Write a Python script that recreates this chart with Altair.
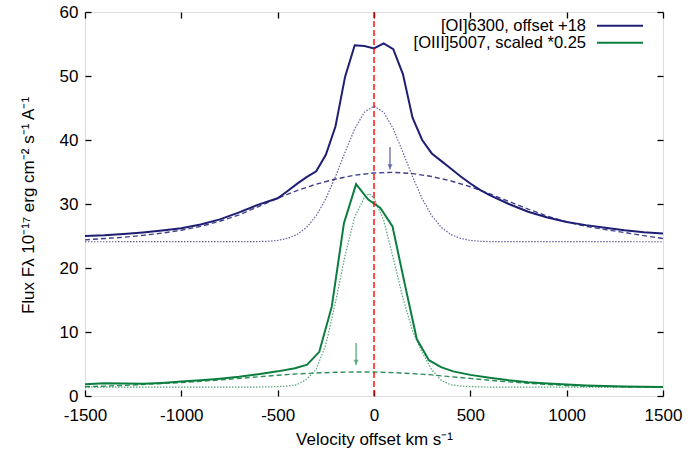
import altair as alt
import pandas as pd

# ---- [OI]6300 profile (offset +18), 1e-17 erg cm^-2 s^-1 A^-1 ----
v_oi = [-1500, -1400, -1300, -1200, -1100, -1000, -900, -800, -700, -600,
        -500, -450, -400, -350, -300, -250, -200, -150, -100, -50,
        0, 50, 100, 150, 200, 250, 300, 350, 400, 450,
        500, 550, 600, 700, 800, 900, 1000, 1100, 1200, 1300, 1400, 1500]
f_oi = [25.0, 25.1, 25.3, 25.55, 25.85, 26.2, 26.8, 27.6, 28.7, 29.9,
        30.9, 32.0, 33.15, 34.2, 35.1, 37.7, 42.1, 49.9, 54.8, 54.7,
        54.3, 55.1, 54.2, 50.3, 43.5, 40.0, 37.9, 36.7, 35.5, 34.3,
        33.2, 32.2, 31.4, 30.0, 28.8, 27.9, 27.2, 26.7, 26.3, 25.9, 25.6, 25.4]

# broad component fits (dashed)
v_broad = [-1500, -1400, -1300, -1200, -1100, -1000, -900, -800, -700, -600,
           -500, -400, -300, -200, -100, 0, 100, 200, 300, 400,
           500, 600, 700, 800, 900, 1000, 1100, 1200, 1300, 1400, 1500]
oi_broad = [24.4, 24.6, 24.8, 25.1, 25.45, 25.9, 26.5, 27.3, 28.3, 29.6,
            30.9, 32.1, 33.1, 33.9, 34.5, 34.85, 34.95, 34.75, 34.3, 33.6,
            32.7, 31.6, 30.4, 29.2, 28.1, 27.2, 26.5, 26.0, 25.55, 25.05, 24.6]
o3_broad = [1.45, 1.55, 1.65, 1.8, 1.95, 2.1, 2.3, 2.5, 2.75, 3.0,
            3.25, 3.45, 3.6, 3.7, 3.75, 3.75, 3.65, 3.5, 3.3, 3.0,
            2.75, 2.45, 2.2, 2.0, 1.8, 1.65, 1.55, 1.48, 1.42, 1.38, 1.35]

# narrow component fits (dotted)
v_narrow_oi = [-1500, -600, -550, -500, -450, -400, -350, -300, -250, -200,
               -150, -100, -50, 0, 50, 100, 150, 200, 250, 300,
               350, 400, 450, 500, 550, 600, 1500]
oi_narrow = [24.1, 24.13, 24.18, 24.31, 24.62, 25.22, 26.33, 28.16, 30.83, 34.27,
             38.1, 41.74, 44.35, 45.3, 44.35, 41.74, 38.1, 34.27, 30.83, 28.16,
             26.33, 25.22, 24.62, 24.31, 24.18, 24.13, 24.1]

# ---- [OIII]5007 profile (scaled *0.25) ----
v_o3 = [-1500, -1400, -1300, -1200, -1100, -1000, -900, -800, -700, -600,
        -500, -410, -347, -284, -219, -156, -93, -30, 33, 96,
        159, 222, 285, 348, 411, 500, 600, 700, 800, 900,
        1000, 1100, 1200, 1300, 1400, 1500]
f_o3 = [1.85, 2.0, 1.95, 1.9, 2.05, 2.25, 2.45, 2.7, 3.0, 3.4,
        3.85, 4.35, 4.9, 6.9, 14.0, 27.0, 33.1, 30.7, 29.4, 26.5,
        17.6, 8.9, 5.6, 4.5, 3.85, 3.3, 2.85, 2.45, 2.15, 1.95,
        1.8, 1.65, 1.55, 1.5, 1.45, 1.42]

v_narrow_o3 = [-1500, -600, -550, -500, -450, -400, -350, -300, -250, -200,
               -150, -100, -50, -25, 0, 50, 100, 150, 200, 250,
               300, 350, 400, 450, 500, 550, 600, 1500]
o3_narrow = [1.4, 1.4, 1.42, 1.47, 1.55, 1.75, 2.6, 4.2, 8.0, 14.6,
             22.0, 28.0, 31.0, 31.65, 30.9, 27.5, 21.5, 15.3, 10.2, 6.8,
             4.1, 2.4, 1.75, 1.55, 1.47, 1.42, 1.4, 1.4]

# broad-component centroid markers: velocity, arrow tail, arrow tip
arrow_oi = {"v": [83], "top": [38.9], "tip": [35.4]}
arrow_o3 = {"v": [-93], "top": [8.3], "tip": [4.85]}

x_ticks = [-1500, -1000, -500, 0, 500, 1000, 1500]
y_ticks = [0, 10, 20, 30, 40, 50, 60]

legend_labels = ["[OI]6300, offset +18", "[OIII]5007, scaled *0.25"]

# ---- styling ----
FONT = "Liberation Sans"
BLUE = "#1e1e74"
GREEN = "#0b7d3e"
RED = "#ff0000"
INWARD = {"expr": "-6"}

xs = alt.Scale(domain=[-1500, 1500], nice=False, zero=False)
ys = alt.Scale(domain=[0, 60], nice=False, zero=False)


def profile(v, f, color, width, dash=None, opacity=1.0):
    kw = dict(color=color, strokeWidth=width, opacity=opacity, clip=True)
    if dash:
        kw["strokeDash"] = dash
    return alt.Chart(pd.DataFrame({"v": v, "f": f})).mark_line(**kw).encode(
        x=alt.X("v:Q", scale=xs, axis=None),
        y=alt.Y("f:Q", scale=ys, axis=None),
    )


def arrow(a, color):
    df = pd.DataFrame(a)
    shaft = alt.Chart(df).mark_rule(color=color, strokeWidth=1.5, opacity=0.8).encode(
        x=alt.X("v:Q", scale=xs, axis=None),
        y=alt.Y("top:Q", scale=ys, axis=None),
        y2="tip:Q",
    )
    head = alt.Chart(df).mark_point(
        shape="triangle-down", filled=True, size=28, color=color, opacity=0.8, yOffset=-3
    ).encode(
        x=alt.X("v:Q", scale=xs, axis=None),
        y=alt.Y("tip:Q", scale=ys, axis=None),
    )
    return shaft + head


common_axis = dict(
    grid=False, domain=False, tickColor="black", tickWidth=1.3, tickSize=INWARD,
    labelFont=FONT, labelFontSize=17, labelColor="black", labelFlush=False,
    titleFont=FONT, titleFontSize=17, titleFontWeight="normal", titleColor="black",
)

ticks_df = pd.DataFrame({"v": x_ticks, "f": y_ticks})

# bottom / left axes with labels
axes_main = alt.Chart(ticks_df).mark_point(opacity=0).encode(
    x=alt.X("v:Q", scale=xs, axis=alt.Axis(
        orient="bottom", values=x_ticks, labelExpr="'' + datum.value",
        labelPadding=17, title="Velocity offset km s\u207b\u00b9", titlePadding=8,
        **common_axis)),
    y=alt.Y("f:Q", scale=ys, axis=alt.Axis(
        orient="left", values=y_ticks, labelExpr="'' + datum.value",
        labelPadding=13,
        title="Flux F\u03bb 10\u207b\u00b9\u2077 erg cm\u207b\u00b2 s\u207b\u00b9 A\u207b\u00b9",
        titleAngle=270, titleBaseline="middle", titleX=-57, titleY=193,
        **common_axis)),
)

# mirrored ticks on top / right
axes_mirror = alt.Chart(ticks_df).mark_point(opacity=0).encode(
    x=alt.X("v:Q", scale=xs, axis=alt.Axis(orient="top", values=x_ticks, labels=False, title=None, **common_axis)),
    y=alt.Y("f:Q", scale=ys, axis=alt.Axis(orient="right", values=y_ticks, labels=False, title=None, **common_axis)),
)

zero_line = alt.Chart(pd.DataFrame({"v": [0]})).mark_rule(
    color=RED, strokeWidth=1.4, strokeDash=[6, 3]
).encode(x=alt.X("v:Q", scale=xs, axis=None))

# key in the upper right corner: label text, then a line sample
key_text = [
    alt.Chart(pd.DataFrame({"t": [legend_labels[i]]})).mark_text(
        align="right", baseline="middle", font=FONT, fontSize=16.5, color="black"
    ).encode(text="t:N", x=alt.value(501), y=alt.value(y))
    for i, y in enumerate([13.5, 31])
]
key_lines = [
    alt.Chart(pd.DataFrame({"t": [legend_labels[i]]})).mark_rule(color=c, strokeWidth=2).encode(
        x=alt.value(512), x2=alt.value(558), y=alt.value(y))
    for i, (c, y) in enumerate([(BLUE, 13.7), (GREEN, 30.7)])
]

chart = alt.layer(
    axes_main,
    axes_mirror,
    profile(v_narrow_oi, oi_narrow, BLUE, 1.2, dash=[1.5, 1.5], opacity=0.7),
    profile(v_narrow_o3, o3_narrow, GREEN, 1.2, dash=[1.5, 1.5], opacity=0.7),
    profile(v_broad, oi_broad, BLUE, 1.4, dash=[5, 3], opacity=0.85),
    profile(v_broad, o3_broad, GREEN, 1.4, dash=[5, 3], opacity=0.85),
    profile(v_oi, f_oi, BLUE, 2),
    profile(v_o3, f_o3, GREEN, 2),
    arrow(arrow_oi, "#5a5aa0"),
    arrow(arrow_o3, "#4aa070"),
    zero_line,
    *key_text,
    *key_lines,
).resolve_axis(x="independent", y="independent").properties(
    width=578, height=384,
    padding={"left": 85, "top": 12, "right": 37, "bottom": 57},
    autosize=alt.AutoSizeParams(type="none"),
).configure_view(stroke="black", strokeWidth=1.5).configure(background="white")

chart.save("out.html", embed_options={"renderer": "svg", "actions": False})
